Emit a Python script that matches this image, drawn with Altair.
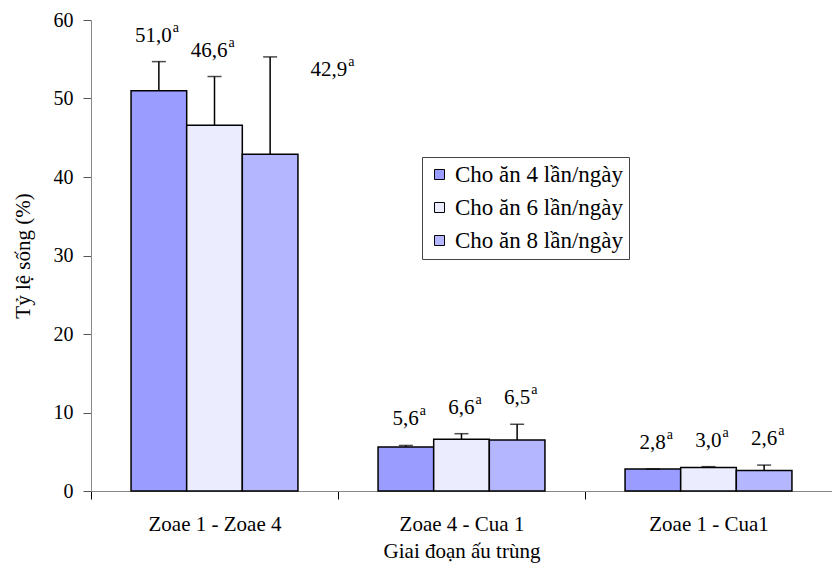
import altair as alt
import pandas as pd

stages = ["Zoae 1 - Zoae 4", "Zoae 4 - Cua 1", "Zoae 1 - Cua1"]
groups = ["Cho ăn 4 lần/ngày", "Cho ăn 6 lần/ngày", "Cho ăn 8 lần/ngày"]
vals_4 = [51.0, 5.6, 2.8]
vals_6 = [46.6, 6.6, 3.0]
vals_8 = [42.9, 6.5, 2.6]
err_4 = [3.7, 0.2, 0.0]
err_6 = [6.2, 0.7, 0.1]
err_8 = [12.4, 2.0, 0.7]
sig = ["a", "a", "a"]
fills = ["#9a9cff", "#ececff", "#b4b6ff"]

rows = []
for g, vals, errs in zip(groups, [vals_4, vals_6, vals_8], [err_4, err_6, err_8]):
    for i, s in enumerate(stages):
        v = vals[i]
        rows.append({
            "stage": s, "group": g, "value": v, "top": v + errs[i],
            "label": f"{v:.1f}".replace(".", ","),
            "sig": sig[i],
            "special": (i == 0 and g == groups[2]),
        })
df = pd.DataFrame(rows)

FONT = "Liberation Serif"

x_enc = alt.X("stage:N", sort=stages, title="Giai đoạn ấu trùng",
              scale=alt.Scale(paddingInner=0, paddingOuter=0),
              axis=alt.Axis(labelAngle=0, tickBand="extent", tickSize=8,
                            labelPadding=14, titlePadding=6,
                            labelFontSize=21, titleFontSize=21,
                            domainColor="#888888", tickColor="#000000"))
xo = alt.XOffset("group:N", sort=groups,
                 scale=alt.Scale(paddingInner=0, paddingOuter=0.72))
y_enc = alt.Y("value:Q", title="Tỷ lệ sống (%)",
              scale=alt.Scale(domain=[0, 60], nice=False),
              axis=alt.Axis(values=[0, 10, 20, 30, 40, 50, 60], grid=False,
                            tickSize=8, labelPadding=10, titlePadding=20,
                            labelFontSize=20, titleFontSize=21,
                            domainColor="#888888", tickColor="#555555"))

base = alt.Chart(df)

bars = base.mark_bar(stroke="black", strokeWidth=1.5).encode(
    x=x_enc, xOffset=xo, y=y_enc,
    fill=alt.Fill("group:N", sort=groups, title=None,
                  scale=alt.Scale(domain=groups, range=fills),
                  legend=alt.Legend(orient="none", legendX=331, legendY=137,
                                    symbolType="square", symbolSize=100,
                                    symbolStrokeColor="black", symbolStrokeWidth=1,
                                    labelFontSize=23, labelFont=FONT, labelColor="black",
                                    labelLimit=300, rowPadding=9, padding=6,
                                    strokeColor="#444444", fillColor="white",
                                    symbolOffset=0, labelOffset=4)),
)

rule = base.mark_rule(color="black", strokeWidth=1.5).encode(
    x=x_enc, xOffset=xo, y="value:Q", y2="top:Q")
cap = base.mark_tick(color="black", orient="horizontal", size=14, thickness=1.5).encode(
    x=x_enc, xOffset=xo, y="top:Q")

normal = base.transform_filter("!datum.special")
special = base.transform_filter("datum.special")

num = normal.mark_text(font=FONT, fontSize=21, dx=13, dy=-26, align="right",
                       baseline="middle", color="black").encode(
    x=x_enc, xOffset=xo, y="top:Q", text="label:N")
sup = normal.mark_text(font=FONT, fontSize=14, dx=14, dy=-34, align="left",
                       baseline="middle", color="black").encode(
    x=x_enc, xOffset=xo, y="top:Q", text="sig:N")
num_sp = special.mark_text(font=FONT, fontSize=21, dx=77, dy=13, align="right",
                           baseline="middle", color="black").encode(
    x=x_enc, xOffset=xo, y="top:Q", text="label:N")
sup_sp = special.mark_text(font=FONT, fontSize=14, dx=78, dy=5, align="left",
                           baseline="middle", color="black").encode(
    x=x_enc, xOffset=xo, y="top:Q", text="sig:N")

chart = alt.layer(bars, rule, cap, num, sup, num_sp, sup_sp).properties(
    width=741, height=471,
    autosize=alt.AutoSizeParams(type="none"),
    padding={"left": 83, "top": 12, "right": 0, "bottom": 80},
).configure_axis(
    labelFont=FONT, titleFont=FONT,
    labelColor="black", titleColor="black", titleFontWeight="normal",
).configure_view(stroke=None)

chart.save("out.html", embed_options={"renderer": "svg", "actions": False})
